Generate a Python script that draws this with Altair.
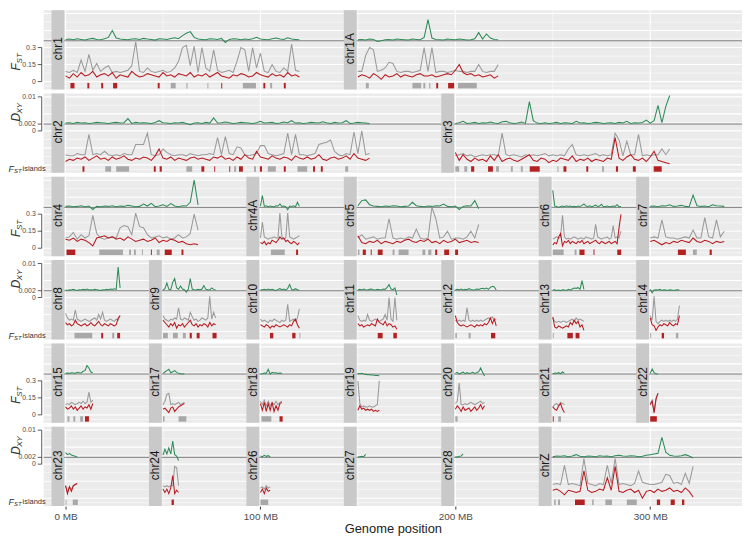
import altair as alt
import pandas as pd

# ---------------- chromosome layout (categories / axis offsets in MB) ----------------
chrom_names = ["chr1", "chr1A", "chr2", "chr3", "chr4", "chr4A", "chr5", "chr6", "chr7",
               "chr8", "chr9", "chr10", "chr11", "chr12", "chr13", "chr14",
               "chr15", "chr17", "chr18", "chr19", "chr20", "chr21", "chr22",
               "chr23", "chr24", "chr26", "chr27", "chr28", "chrZ"]
chrom_rows = [0, 0, 1, 1, 2, 2, 2, 2, 2, 3, 3, 3, 3, 3, 3, 3, 4, 4, 4, 4, 4, 4, 4, 5, 5, 5, 5, 5, 5]
chrom_starts = [0, 150, 0, 200, 0, 100, 150, 250, 300, 0, 50, 100, 150, 200, 250, 300,
                0, 50, 100, 150, 200, 250, 300, 0, 50, 100, 150, 200, 250]
chrom_steps = [2, 2, 2, 2, 2, 1, 2, 1, 2, 1, 1, 1, 1, 1, 1, 1,
               1, 1, 1, 1, 1, 1, 1, 1, 1, 1, 1, 1, 2]

# ---------------- values: Dxy in 1e-4, Fst in 1e-2 ----------------
dxy_chr1 = [24,25,23,26,24,22,25,27,24,23, 26,30,50,28,25,24,23,25,26,24, 27,25,24,22,26,25,24,27,29,26,
            35,42,47,30,25,24,23,26,25,24, 27,15,24,26,25,23,25,24,26,30, 25,24,23,26,28,25,24,29,25,24, 23]
grey_chr1 = [9,8,10,8,19,9,24,10,16,9, 12,14,8,9,8,9,10,14,35,9, 8,12,9,8,9,10,8,9,12,18,
             30,32,14,31,8,30,12,9,28,10, 8,9,10,8,18,30,28,9,30,12, 25,9,8,15,9,8,12,9,33,10, 9]
red_chr1 = [5,3,7,4,8,5,6,9,4,6, 7,5,8,3,6,5,4,9,6,4, 5,7,6,5,4,8,5,6,4,7,
            6,5,8,4,6,5,7,4,6,8, 5,4,3,6,5,7,6,4,5,8, 6,5,4,7,5,6,4,8,5,6, 4]
isl_chr1 = [(2.5,4.6,"r"),(11.2,12.2,"r"),(18.3,19.3,"r"),(24.4,26.5,"r"),(47.3,48.3,"r"),(54,56.5,"g"),
            (62,62.6,"g"),(72.8,73.3,"g"),(79.9,80.4,"r"),(91,97.7,"g"),(101.5,102.5,"r"),(105,106,"g"),(112,113,"r")]

dxy_chr1A = [23,24,22,25,24,18,20,23,24,22, 25,24,23,22,25,24,23,30,82,28, 24,23,22,25,24,23,25,24,22,23, 26,44,25,40,28,24,23]
grey_chr1A = [9,9,23,30,28,9,10,12,17,16, 9,8,9,9,8,9,10,30,9,30, 8,9,9,8,9,10,9,9,8,9, 9,15,9,8,9,9,15]
red_chr1A = [4,6,5,3,7,5,2,6,4,5, 7,4,6,5,4,6,7,5,5,6, 4,5,6,7,6,10,15,8,6,7, 5,6,4,5,6,3,5]
isl_chr1A = [(4.1,5.6,"g"),(28,32.5,"g"),(33.6,34.6,"g"),(36.6,37.2,"g"),(40.2,41.2,"r"),(46.3,49.4,"r"),(51.4,61,"g")]

dxy_chr2 = [23,24,22,25,23,24,22,23,25,24, 23,22,24,25,23,24,36,22,25,23, 24,23,22,25,30,24,23,22,24,23,
            25,22,18,23,24,22,25,23,38,23, 24,26,24,22,23,25,24,23,22,24, 28,23,24,25,22,23,26,24,30,23,
            24,22,23,25,24,23,27,24,22,25, 23,24,30,22,23,25,24,23,22]
grey_chr2 = [9,8,8,10,9,9,27,9,10,9, 12,9,8,9,8,10,9,9,18,18, 18,28,9,8,9,14,11,9,8,9,
             9,8,10,9,8,9,9,10,9,24, 9,25,10,9,16,15,9,8,9,10, 17,17,10,9,8,9,10,28,9,27,
             9,9,8,9,10,18,19,20,22,12, 9,8,10,9,29,10,30,9,10]
red_chr2 = [3,5,4,6,5,7,4,6,8,5, 6,4,7,5,6,8,5,4,6,5, 7,6,4,8,14,6,5,7,4,6,
            5,4,6,7,5,6,5,4,7,6, 8,5,6,4,7,5,9,6,5,12, 7,6,5,8,6,5,7,6,4,8,
            6,5,7,5,6,9,5,4,6,7, 5,6,8,5,10,6,5,4,6]
isl_chr2 = [(8.7,9.7,"r"),(20.4,23.4,"g"),(26,32.6,"g"),(45.3,46.3,"r"),(48.3,49.4,"r"),(62,65,"g"),
            (69.7,71.2,"r"),(76.3,76.8,"r"),(84,84.5,"r"),(86.5,87.5,"g"),(89,91,"r"),(96.7,97.7,"g"),
            (99.7,100.8,"r"),(103.8,107.9,"g"),(112,113,"r"),(119,124,"g"),(127,128,"r"),(131,132,"r"),(143.5,145,"g")]

dxy_chr3 = [22,24,28,22,23,25,22,24,23,26, 23,22,27,28,24,22,23,26,22,86, 30,23,22,24,22,23,25,22,24,23,
            22,28,23,24,22,23,25,24,22,23, 24,22,25,23,28,22,24,23,25,32, 23,30,75,24,72,104]
grey_chr3 = [8,9,10,8,9,7,8,9,8,9, 9,8,28,9,8,9,8,7,9,8, 9,8,9,10,8,9,8,9,8,14,
             18,9,8,9,8,9,10,8,9,8, 9,28,22,8,21,9,9,27,8,9, 8,9,9,14,9,14]
red_chr3 = [11,4,9,5,3,6,4,5,3,8, 4,9,3,5,6,4,3,5,7,9, 4,3,6,5,2,4,3,6,5,4,
            8,3,5,4,6,3,5,4,3,6, 5,24,6,4,7,9,5,4,6,3, 7,12,4,3,2,1]
isl_chr3 = [(0,2,"g"),(4.6,6.1,"g"),(8.1,9.7,"r"),(16.8,19.3,"r"),(20.9,22.4,"g"),(28.5,29.5,"g"),(33.6,34.6,"g"),
            (38.2,43.3,"r"),(52.4,52.9,"g"),(55.5,57,"r"),(67.2,68.2,"r"),(75.3,76.3,"g"),(82.4,83.5,"r"),
            (91.1,92.6,"r"),(101.8,105.9,"r")]

dxy_chr4 = [23,24,22,23,25,22,24,14,23,22, 24,23,25,22,24,23,26,24,22,23, 30,24,32,22,24,28,23,31,24,22, 25,24,35,100,27]
grey_chr4 = [9,10,14,8,12,9,11,29,13,9, 8,9,10,9,18,20,19,12,31,19, 18,12,9,10,11,9,10,8,9,12, 9,10,13,30,16]
red_chr4 = [8,7,9,6,8,7,5,2,9,10, 11,9,10,8,9,7,10,8,6,7, 8,6,7,9,5,7,6,8,7,5, 6,4,3,4,3]
isl_chr4 = [(0.5,5,"r"),(17.3,29.5,"g"),(32.6,33.6,"g"),(35.1,36.1,"g"),(39.2,39.7,"g"),(43.8,44.3,"r"),
            (46.8,48.3,"g"),(50.9,54.5,"r"),(59.5,60.5,"r")]

dxy_chr4A = [24,55,23,25,22,24,23,22,25,24, 30,23,24,22,13,24,23,25,22,35, 23]
grey_chr4A = [9,23,10,9,8,9,9,10,9,9, 31,10,8,9,31,10,9,8,9,10, 11]
red_chr4A = [5,4,6,3,5,4,7,6,5,7, 10,8,9,6,7,5,4,6,5,3, 5]
isl_chr4A = [(5.4,12.5,"g"),(18.3,19.3,"r")]

dxy_chr5 = [25,40,42,28,24,23,22,24,23,25, 24,22,23,24,35,25,23,22,24,23, 25,24,30,23,22,24,14,23,25,24, 40,16]
grey_chr5 = [9,12,8,9,10,8,9,9,26,9, 8,9,8,10,9,17,9,8,9,36, 26,9,10,15,8,9,9,8,10,15, 9,21]
red_chr5 = [11,5,4,6,5,7,4,6,5,4, 6,5,7,8,6,5,7,6,8,5, 6,4,7,5,6,8,5,6,7,5, 6,5]
isl_chr5 = [(0,0.8,"g"),(2.5,4.1,"r"),(6.6,7.1,"r"),(10.2,12.7,"r"),(17.8,18.8,"g"),(20.9,26,"g"),(33.1,34.6,"g"),
            (36.1,37.7,"g"),(39.7,40.7,"r"),(44.3,46.8,"r"),(49.9,51.4,"r")]

dxy_chr6 = [70,24,23,20,23,24,22,25,23,24, 22,23,22,24,23,26,30,24,23,25, 22,24,27,23,24,29,22,23,24,22, 23,24,23,28,22,23]
grey_chr6 = [8,9,10,9,10,29,10,8,9,8, 9,10,9,8,9,9,8,10,9,9, 8,9,21,10,9,8,9,9,10,8, 9,20,9,10,9,15]
red_chr6 = [3,5,4,10,13,2,6,5,7,4, 6,5,4,6,5,7,4,5,6,4, 5,6,7,5,4,6,5,4,5,6, 4,5,6,4,18,30]
isl_chr6 = [(0,5.6,"g"),(11.2,12.2,"g"),(13.7,16.3,"r"),(20.9,21.4,"r"),(33.1,35.1,"r")]

dxy_chr7 = [23,24,22,25,24,28,23,24,26,23, 22,56,25,23,24,22,28,25,24,23]
grey_chr7 = [9,10,9,25,10,9,9,8,9,10, 9,16,9,9,27,10,9,25,10,15]
red_chr7 = [6,7,5,3,5,4,6,5,7,6, 5,9,6,5,7,6,4,6,5,6]
isl_chr7 = [(14.2,18.3,"r"),(21.9,23.9,"g"),(30.5,31.6,"r")]

dxy_chr8 = [22,21,23,22,24,22,21,23,22,24, 23,25,22,23,22,24,23,22,21,23, 22,24,23,25,24,26,24,90,28]
grey_chr8 = [16,12,10,11,10,19,11,10,9,10, 11,10,9,10,11,12,10,15,11,17, 10,9,10,11,10,9,11,10,14]
red_chr8 = [8,6,7,5,6,10,7,6,5,6, 7,5,6,8,6,5,7,9,6,5, 7,6,5,7,6,5,6,12,14]
isl_chr8 = [(4.6,13.7,"g"),(18.3,19.3,"r"),(23.9,25,"g"),(26.5,28,"r")]

dxy_chr9 = [22,26,43,24,23,45,56,28,24,34, 25,23,16,24,56,25,23,22,24,23, 25,35,24,23,22,28,24,22]
grey_chr9 = [14,11,10,9,11,10,12,11,21,11, 10,12,11,10,17,13,10,11,9,10, 12,11,10,12,31,11,17,12]
red_chr9 = [10,8,6,4,7,5,8,3,6,5, 7,4,6,8,10,6,5,7,4,6, 5,7,6,4,8,5,7,6]
isl_chr9 = [(0,2.5,"g"),(5.1,7.6,"g"),(10.2,11.7,"g"),(13.7,14.8,"r"),(17.3,18.8,"r"),(25.4,27.5,"r")]

dxy_chr10 = [22,23,24,22,25,23,24,22,21,24, 26,23,25,22,27,38,24,22,26,23, 21]
grey_chr10 = [11,9,10,9,8,10,9,11,10,9, 8,10,9,10,24,9,10,11,9,12, 20]
red_chr10 = [6,5,4,6,5,3,5,4,6,5, 4,5,6,5,4,6,5,9,11,6, 3]
isl_chr10 = [(4.9,6.6,"r"),(16.3,18,"r"),(20,20.5,"g")]

dxy_chr11 = [23,24,22,25,23,22,24,25,23,22, 24,23,22,25,24,30,38,25,23,28, 8]
grey_chr11 = [14,10,9,10,9,15,10,9,10,11, 10,9,10,11,15,10,30,11,9,30, 10]
red_chr11 = [7,5,6,4,5,6,5,7,6,5, 11,8,7,6,9,5,7,6,4,5, 2]
isl_chr11 = [(10.2,12.7,"r"),(18.2,20,"r")]

dxy_chr12 = [22,24,23,25,22,24,23,26,24,22, 23,25,24,26,27,25,28,24,30,33, 31,22]
grey_chr12 = [10,9,10,9,10,9,21,10,9,10, 9,10,9,10,9,10,11,12,11,13, 10,11]
red_chr12 = [14,8,6,5,6,5,4,5,6,5, 4,6,5,6,5,7,6,8,12,7, 11,5]
isl_chr12 = [(0,0.8,"g"),(6.8,7.9,"g"),(18.3,20.5,"r")]

dxy_chr13 = [22,23,21,22,20,23,22,21,24,22, 25,28,27,29,24,50,24]
grey_chr13 = [12,9,8,9,8,9,9,8,9,10, 11,9,12,10,11,10,9]
red_chr13 = [13,4,3,5,4,3,4,5,4,8, 6,10,7,9,4,6,1]
isl_chr13 = [(0,0.5,"g"),(7.5,10.3,"r"),(11.7,13.7,"r")]

dxy_chr14 = [24,14,22,23,22,24,21,23,22,21, 23,22,21,22,23,22]
grey_chr14 = [14,10,31,9,7,9,10,9,10,9, 10,9,10,9,11,23]
red_chr14 = [12,6,5,1,4,6,5,7,6,5, 8,6,5,7,6,14]
isl_chr14 = [(0,0.5,"g"),(5.9,7.1,"r"),(13.2,14.4,"g")]

dxy_chr15 = [22,23,22,24,23,22,25,24,23,28, 30,45,38,26,24]
grey_chr15 = [9,10,9,11,10,9,10,11,10,12, 10,11,20,11,13]
red_chr15 = [7,5,6,8,5,7,4,6,8,5, 7,6,9,5,10]
isl_chr15 = [(1,2,"g"),(4,5,"g"),(7.5,9,"g"),(10,12,"r")]

dxy_chr17 = [22,26,30,34,24,27,30,25,22,21, 20,21]
grey_chr17 = [9,12,18,19,9,10,9,10,11,9, 10,11]
red_chr17 = [5,6,4,2,6,7,3,5,7,8, 9,10]
isl_chr17 = [(0,0.8,"g"),(8,12,"g")]

dxy_chr18 = [20,21,23,22,34,20,25,23,24,22, 23,22]
grey_chr18 = [12,9,13,8,12,8,11,9,12,9, 11,12]
red_chr18 = [10,4,11,3,10,4,11,3,8,4, 10,11]
isl_chr18 = [(0.5,5.6,"g"),(9.8,11.4,"r")]

dxy_chr19 = [22,21,22,20,19,18,18,17,17,16, 16,15]
grey_chr19 = [30,10,7,8,7,7,8,7,7,8, 9,30]
red_chr19 = [4,8,5,6,4,5,4,5,3,4, 3,4]
isl_chr19 = []

dxy_chr20 = [22,25,20,23,26,21,24,22,23,25, 22,24,27,38,25,14]
grey_chr20 = [10,12,28,9,9,10,9,10,11,10, 9,10,11,12,10,11]
red_chr20 = [5,8,6,3,7,4,5,6,3,5, 7,4,6,9,5,8]
isl_chr20 = [(0,1.2,"g")]

dxy_chr21 = [21,23,22,24,21,26,22]
grey_chr21 = [7,9,10,8,11,10,9]
red_chr21 = [7,5,4,8,10,5,2]
isl_chr21 = [(0,0.5,"r"),(2.8,4.2,"g")]

dxy_chr22 = [22,35,24,20,21]
grey_chr22 = [10,13,2,15,19]
red_chr22 = [9,12,2,14,19]
isl_chr22 = [(0,3.4,"r")]

dxy_chr23 = [34,28,31,27,25,23,21]
grey_chr23 = [11,6,10,8,11,12,13]
red_chr23 = [11,4,10,6,11,12,13]
isl_chr23 = [(0,0.5,"g"),(3.7,6.3,"g")]

dxy_chr24 = [27,44,30,48,30,68,28,24,11]
grey_chr24 = [11,10,11,10,11,11,28,27,11]
red_chr24 = [8,5,8,4,9,20,4,7,5]
isl_chr24 = [(4.4,5.6,"r")]

dxy_chr26 = [24,22,26,23,25,22]
grey_chr26 = [9,10,8,11,9,10]
red_chr26 = [5,8,4,9,6,7]
isl_chr26 = [(0,4,"g")]

dxy_chr27 = [21,22,23,22,29]
grey_chr27 = []
red_chr27 = []
isl_chr27 = []

dxy_chr28 = [22,21,23,24,30]
grey_chr28 = []
red_chr28 = []
isl_chr28 = []

dxy_chrZ = [22,24,23,25,22,24,28,23,22,24, 23,22,25,23,24,22,25,26,24,23, 25,24,22,23,26,28,30,32,79,35, 26,24,23,25,28,24,18]
grey_chrZ = [12,13,12,29,12,13,12,11,35,13, 12,11,13,12,29,13,35,12,13,12, 11,13,24,14,13,12,12,13,14,21, 20,13,14,12,22,13,28]
red_chrZ = [7,8,6,3,7,6,5,6,24,7, 5,6,8,7,18,7,28,6,5,7, 8,5,7,0,6,7,5,8,6,7, 9,6,7,5,9,6,1]
isl_chrZ = [(0.7,1.5,"g"),(2.7,3.7,"g"),(11.4,16.4,"r"),(20.2,21,"g"),(27,30.4,"g"),(38,43.1,"g"),
            (53.4,55.1,"r"),(60.5,62.6,"r"),(66.3,67.5,"r")]

# tick labels of the two alternating y axes
fst_ticks = [0, 0.15, 0.3]
fst_tick_labels = ["0", "0.15", "0.3"]
dxy_ticks = [0, 0.002, 0.01]
dxy_tick_labels = ["0", "0.002", "0.01"]
x_ticks = [0, 100, 200, 300]

# ---------------- layout ----------------
W, ROW_H, GAP, NROW = 704, 80, 4, 6
H = NROW * ROW_H + (NROW - 1) * GAP
STRIDE = ROW_H + GAP
V_TOP, V_BOT = 0.63, -0.07          # panel range in Fst units
DXY_OFF, DXY_MUL = 0.3, 30.0        # Dxy drawn as 0.3 + 30 * Dxy


def yy(r, v):
    return r * STRIDE + (V_TOP - v) / (V_TOP - V_BOT) * ROW_H


def dxy_pos(d):
    return DXY_OFF + DXY_MUL * d


G = globals()
line_rows, isl_rows, strip_rows = [], [], []
for name, r, s, st in zip(chrom_names, chrom_rows, chrom_starts, chrom_steps):
    for i, v in enumerate(G["dxy_" + name]):
        line_rows.append(dict(chrom=name, series="dxy", pos=s + i * st, y=yy(r, dxy_pos(v / 1e4))))
    for i, v in enumerate(G["grey_" + name]):
        line_rows.append(dict(chrom=name, series="grey", pos=s + i * st, y=yy(r, v / 100)))
    for i, v in enumerate(G["red_" + name]):
        line_rows.append(dict(chrom=name, series="red", pos=s + i * st, y=yy(r, v / 100)))
    for a, b, k in G["isl_" + name]:
        isl_rows.append(dict(chrom=name, x0=s + a, x1=s + b, kind=k,
                             yt=yy(r, -0.012), yb=yy(r, -0.06)))
    strip_rows.append(dict(chrom=name, s0=s - 7.2, s1=s - 0.6, sc=s - 3.9,
                           top=yy(r, V_TOP), bot=yy(r, V_BOT), mid=yy(r, 0.29)))

lines = pd.DataFrame(line_rows)
islands = pd.DataFrame(isl_rows)
strips = pd.DataFrame(strip_rows)

panels = pd.DataFrame([dict(r=r, top=yy(r, V_TOP), bot=yy(r, V_BOT)) for r in range(NROW)])
hmajor = pd.DataFrame([dict(y=yy(r, v)) for r in range(NROW) for v in [0, 0.15, 0.3, 0.45, 0.6]])
hminor = pd.DataFrame([dict(y=yy(r, v)) for r in range(NROW) for v in [-0.04, 0.075, 0.225, 0.375, 0.525]])
vgrid = pd.DataFrame([dict(mb=m, w=(1.1 if m % 100 == 0 else 0.55), top=yy(r, V_TOP), bot=yy(r, V_BOT))
                      for r in range(NROW) for m in [0, 50, 100, 150, 200, 250, 300]])
hline = pd.DataFrame([dict(y=yy(r, dxy_pos(0.002))) for r in range(NROW)])

tick_rows, dom_rows = [], []
for r in range(NROW):
    if r % 2 == 0:
        for v, lab in zip(fst_ticks, fst_tick_labels):
            tick_rows.append(dict(y=yy(r, v), lab=lab, nudge=0))
        dom_rows.append(dict(y0=yy(r, 0), y1=yy(r, 0.3)))
    else:
        for v, lab in zip(dxy_ticks, dxy_tick_labels):
            nud = 1 if v == 0 else (-1 if v == 0.002 else 0)
            tick_rows.append(dict(y=yy(r, dxy_pos(v)), lab=lab, nudge=nud))
        dom_rows.append(dict(y0=yy(r, dxy_pos(0)), y1=yy(r, dxy_pos(0.01))))
ticks = pd.DataFrame(tick_rows)
doms = pd.DataFrame(dom_rows)

big_rows, sub_rows, isl_lab = [], [], []
for r in range(NROW):
    if r % 2 == 0:
        big_rows.append(dict(y=yy(r, 0.13), t="F"))
        sub_rows.append(dict(y=yy(r, 0.205), t="ST"))
    else:
        big_rows.append(dict(y=yy(r, 0.42), t="D"))
        sub_rows.append(dict(y=yy(r, 0.5), t="XY"))
        isl_lab.append(dict(y=yy(r, -0.036)))
big_t = pd.DataFrame(big_rows)
sub_t = pd.DataFrame(sub_rows)
isl_t = pd.DataFrame(isl_lab)

# ---------------- chart ----------------
XS = alt.Scale(domain=[-11.2, 347.1], nice=False, zero=False)
YS = alt.Scale(domain=[0, H], reverse=True, nice=False, zero=False)
XAX = alt.Axis(values=x_ticks, labelExpr="datum.value + ' MB'", title="Genome position",
               grid=False, domain=False, tickColor="#333333", tickSize=3, labelFontSize=10,
               labelColor="#4D4D4D", labelPadding=2, titleFontSize=13, titleColor="#222222",
               titleFontWeight="normal", titlePadding=2, labelFlush=False)


def X(f):
    return alt.X(f"{f}:Q", scale=XS, axis=XAX)


def Y(f):
    return alt.Y(f"{f}:Q", scale=YS, axis=None)


bg = alt.Chart(panels).mark_rect(color="#EBEBEB").encode(
    x=alt.value(0), x2=alt.value(W), y=Y("top"), y2=alt.Y2("bot"))
gmin = alt.Chart(hminor).mark_rule(color="white", strokeWidth=0.55).encode(
    x=alt.value(0), x2=alt.value(W), y=Y("y"))
gmaj = alt.Chart(hmajor).mark_rule(color="white", strokeWidth=1.1).encode(
    x=alt.value(0), x2=alt.value(W), y=Y("y"))
gv = alt.Chart(vgrid).mark_rule(color="white").encode(
    x=X("mb"), y=Y("top"), y2=alt.Y2("bot"), strokeWidth=alt.StrokeWidth("w:Q", scale=None))
hl = alt.Chart(hline).mark_rule(color="#666666", strokeWidth=0.8).encode(
    x=alt.value(0), x2=alt.value(W), y=Y("y"))
strip_rect = alt.Chart(strips).mark_rect(color="#C9C9C9").encode(
    x=X("s0"), x2=alt.X2("s1"), y=Y("top"), y2=alt.Y2("bot"))
strip_txt = alt.Chart(strips).mark_text(angle=270, fontSize=12, color="#1A1A1A", align="center",
                                        baseline="middle").encode(x=X("sc"), y=Y("mid"), text="chrom:N")
isl = alt.Chart(islands).mark_rect().encode(
    x=X("x0"), x2=alt.X2("x1"), y=Y("yt"), y2=alt.Y2("yb"),
    color=alt.Color("kind:N", scale=alt.Scale(domain=["g", "r"], range=["#A8A8A8", "#B22222"]), legend=None))


def line_layer(series, color):
    return alt.Chart(lines[lines.series == series]).mark_line(color=color, strokeWidth=1.05).encode(
        x=X("pos"), y=Y("y"), detail="chrom:N")


l_grey = line_layer("grey", "#9A9A9A")
l_red = line_layer("red", "#B8191F")
l_dxy = line_layer("dxy", "#2E8B57")

tick_lab = alt.Chart(ticks).mark_text(align="right", baseline="middle", fontSize=7, color="#4D4D4D").encode(
    x=alt.value(-8), y=Y("y"), text="lab:N", yOffset=alt.YOffset("nudge:Q", scale=None))
tick_mk = alt.Chart(ticks).mark_rule(color="#333333", strokeWidth=0.8).encode(
    x=alt.value(-6), x2=alt.value(-2), y=Y("y"))
dom = alt.Chart(doms).mark_rule(color="#333333", strokeWidth=0.8).encode(
    x=alt.value(-2), y=Y("y0"), y2=alt.Y2("y1"))
t_big = alt.Chart(big_t).mark_text(angle=270, fontSize=12, fontStyle="italic", color="#333333",
                                   align="center", baseline="middle").encode(x=alt.value(-27.5), y=Y("y"), text="t:N")
t_sub = alt.Chart(sub_t).mark_text(angle=270, fontSize=8, fontStyle="italic", color="#333333",
                                   align="center", baseline="middle").encode(x=alt.value(-23.5), y=Y("y"), text="t:N")
i_F = alt.Chart(isl_t).mark_text(text="F", fontSize=9, fontStyle="italic", color="#333333",
                                 align="left", baseline="middle").encode(x=alt.value(-35.5), y=Y("y"))
i_ST = alt.Chart(isl_t).mark_text(text="ST", fontSize=6, fontStyle="italic", color="#333333",
                                  align="left", baseline="middle", dy=2).encode(x=alt.value(-30), y=Y("y"))
i_word = alt.Chart(isl_t).mark_text(text="islands", fontSize=7.5, color="#333333",
                                    align="left", baseline="middle").encode(x=alt.value(-21.3), y=Y("y"))

chart = alt.layer(bg, gmin, gmaj, gv, hl, strip_rect, strip_txt, isl, l_grey, l_red, l_dxy,
                  tick_lab, tick_mk, dom, t_big, t_sub, i_F, i_ST, i_word).properties(
    width=W, height=H,
    autosize=alt.AutoSizeParams(type="none"),
    padding={"left": 36, "top": 0, "right": 0, "bottom": 34},
).configure(font="Liberation Sans").configure_view(stroke=None)

chart.save("out.html", embed_options={"renderer": "svg", "actions": False})
